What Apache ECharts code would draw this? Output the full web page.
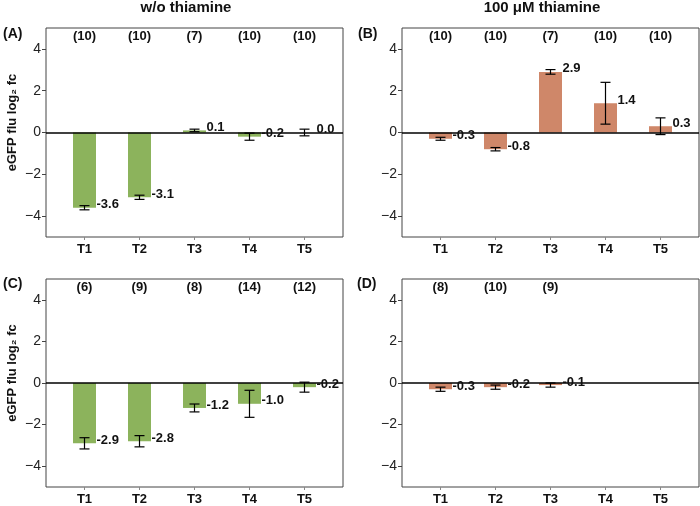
<!DOCTYPE html>
<html>
<head>
<meta charset="utf-8">
<script src="https://cdn.jsdelivr.net/npm/echarts@6/dist/echarts.min.js"></script>
<style>html,body{margin:0;padding:0;background:#fff}#c{width:700px;height:506px}</style>
</head>
<body>
<div id="c"></div>
<script>
const categories = ['T1', 'T2', 'T3', 'T4', 'T5'];
const yTicks = [-4, -2, 0, 2, 4];
const columnTitles = ['w/o thiamine', '100 μM thiamine'];
const panelLetters = ['(A)', '(B)', '(C)', '(D)'];
const yAxisTitle = 'eGFP flu log₂ fc';

const meanA = [-3.6, -3.1, 0.1, -0.2, 0.0];
const errA  = [0.1, 0.1, 0.06, 0.17, 0.16];
const nA    = [10, 10, 7, 10, 10];

const meanB = [-0.3, -0.8, 2.9, 1.4, 0.3];
const errB  = [0.07, 0.08, 0.11, 1.0, 0.4];
const nB    = [10, 10, 7, 10, 10];

const meanC = [-2.9, -2.8, -1.2, -1.0, -0.2];
const errC  = [0.27, 0.27, 0.19, 0.65, 0.24];
const nC    = [6, 9, 8, 14, 12];

const meanD = [-0.3, -0.2, -0.1, null, null];
const errD  = [0.1, 0.1, 0.1, null, null];
const nD    = [8, 10, 9, null, null];

const GREEN = '#8CB35C', ORANGE = '#CF8769';
const FONT = '"Liberation Sans", Arial, sans-serif';

const panels = [
  {mean: meanA, err: errA, n: nA, color: GREEN, left: 46, top: 28, ytitle: true},
  {mean: meanB, err: errB, n: nB, color: ORANGE, left: 402, top: 28, ytitle: false},
  {mean: meanC, err: errC, n: nC, color: GREEN, left: 46, top: 279, ytitle: true},
  {mean: meanD, err: errD, n: nD, color: ORANGE, left: 402, top: 279, ytitle: false}
];

const grid = [], xAxis = [], yAxis = [], series = [];
panels.forEach((p, k) => {
  grid.push({left: p.left, top: p.top, width: 297, height: 209, show: true,
    borderColor: '#444', borderWidth: 1, backgroundColor: 'transparent'});
  xAxis.push({type: 'value', gridIndex: k, min: -0.7, max: 4.7, position: 'bottom',
    axisLine: {show: false, onZero: false}, splitLine: {show: false},
    axisTick: {show: true, length: 3, lineStyle: {color: '#888'}, customValues: [0, 1, 2, 3, 4]},
    axisLabel: {customValues: [0, 1, 2, 3, 4], formatter: v => categories[Math.round(v)] || '',
      fontFamily: FONT, fontWeight: 'bold', fontSize: 13, color: '#111', margin: 6}});
  yAxis.push({type: 'value', gridIndex: k, min: -5, max: 5, position: 'left',
    axisLine: {show: false, onZero: false}, splitLine: {show: false},
    axisTick: {show: true, length: 4, lineStyle: {color: '#444'}, customValues: yTicks},
    axisLabel: {customValues: yTicks, formatter: v => (v < 0 ? '\u2212' + Math.abs(v) : String(v)),
      fontFamily: FONT, fontSize: 14, color: '#222', margin: 5},
    name: p.ytitle ? yAxisTitle : '', nameLocation: 'middle', nameGap: 27,
    nameTextStyle: {fontFamily: FONT, fontWeight: 'bold', fontSize: 13, color: '#111', padding: [0, 0, 0, 20]}});

  const barData = p.mean.map((v, i) => [i, v]).filter(d => d[1] !== null);
  series.push({type: 'bar', xAxisIndex: k, yAxisIndex: k, data: barData, barWidth: 23,
    itemStyle: {color: p.color}, silent: true, z: 2,
    markLine: {silent: true, symbol: 'none', label: {show: false}, z: 3,
      lineStyle: {color: '#000', width: 1.5, type: 'solid'}, data: [{yAxis: 0}]}});

  const errData = p.mean.map((v, i) => [i, v, p.err[i]]).filter(d => d[1] !== null);
  series.push({type: 'custom', xAxisIndex: k, yAxisIndex: k, data: errData, z: 4, silent: true,
    encode: {x: 0, y: 1},
    renderItem: (params, api) => {
      const x = api.value(0), m = api.value(1), e = api.value(2);
      const t = api.coord([x, m + e]), b = api.coord([x, m - e]);
      const ls = {stroke: '#000', lineWidth: 1.2};
      return {type: 'group', children: [
        {type: 'line', shape: {x1: t[0], y1: t[1], x2: b[0], y2: b[1]}, style: ls},
        {type: 'line', shape: {x1: t[0] - 5, y1: t[1], x2: t[0] + 5, y2: t[1]}, style: ls},
        {type: 'line', shape: {x1: b[0] - 5, y1: b[1], x2: b[0] + 5, y2: b[1]}, style: ls}
      ]};
    }});

  series.push({type: 'custom', xAxisIndex: k, yAxisIndex: k, data: errData, z: 5, silent: true,
    encode: {x: 0, y: 1},
    renderItem: (params, api) => {
      const x = api.value(0), m = api.value(1);
      const pt = api.coord([x, m]);
      return {type: 'text', x: pt[0] + 12, y: pt[1] - 3,
        style: {text: m.toFixed(1), font: 'bold 13px ' + FONT, fill: '#111', align: 'left', verticalAlign: 'middle'}};
    }});

  const nData = p.n.map((v, i) => [i, 4.6, v]).filter(d => d[2] !== null);
  series.push({type: 'custom', xAxisIndex: k, yAxisIndex: k, data: nData, z: 5, silent: true,
    encode: {x: 0, y: 1},
    renderItem: (params, api) => {
      const pt = api.coord([api.value(0), api.value(1)]);
      return {type: 'text', x: pt[0], y: pt[1],
        style: {text: '(' + api.value(2) + ')', font: 'bold 13px ' + FONT, fill: '#111', align: 'center', verticalAlign: 'middle'}};
    }});
});

const graphic = [
  {type: 'text', x: 186, y: 8, style: {text: columnTitles[0], font: 'bold 15px ' + FONT, fill: '#111', align: 'center', verticalAlign: 'middle'}},
  {type: 'text', x: 542, y: 8, style: {text: columnTitles[1], font: 'bold 15px ' + FONT, fill: '#111', align: 'center', verticalAlign: 'middle'}},
  {type: 'text', x: 3, y: 34, style: {text: panelLetters[0], font: 'bold 14px ' + FONT, fill: '#111', align: 'left', verticalAlign: 'middle'}},
  {type: 'text', x: 358, y: 34, style: {text: panelLetters[1], font: 'bold 14px ' + FONT, fill: '#111', align: 'left', verticalAlign: 'middle'}},
  {type: 'text', x: 3, y: 284, style: {text: panelLetters[2], font: 'bold 14px ' + FONT, fill: '#111', align: 'left', verticalAlign: 'middle'}},
  {type: 'text', x: 357, y: 284, style: {text: panelLetters[3], font: 'bold 14px ' + FONT, fill: '#111', align: 'left', verticalAlign: 'middle'}}
];

const chart = echarts.init(document.getElementById('c'), null, {renderer: 'canvas'});
chart.setOption({animation: false, backgroundColor: '#fff', grid, xAxis, yAxis, series, graphic});
</script>
</body>
</html>
